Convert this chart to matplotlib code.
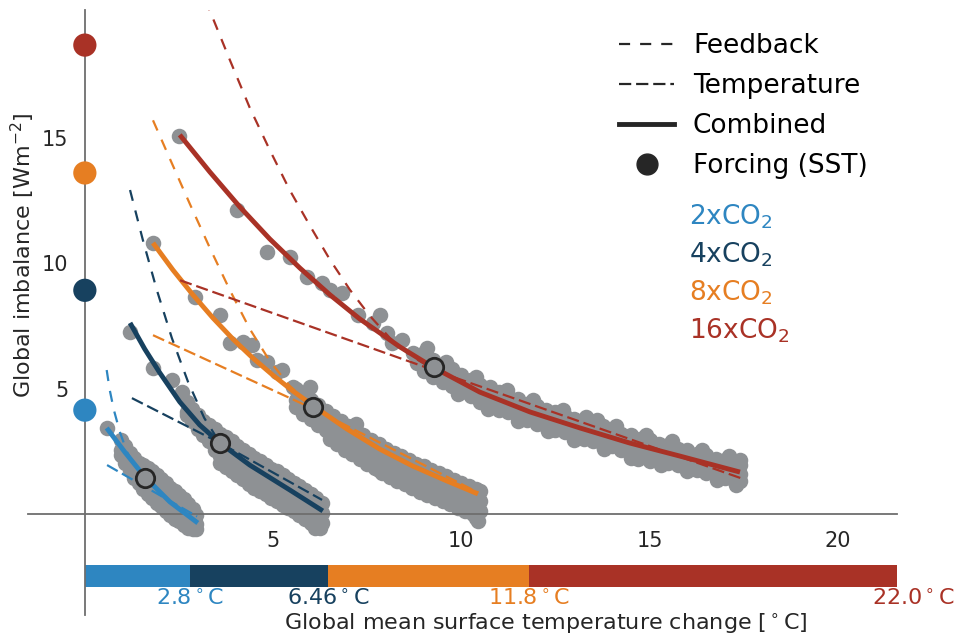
import matplotlib
matplotlib.use("Agg")
import matplotlib.pyplot as plt
from matplotlib.lines import Line2D

# ---------------- data ----------------
run_labels = ["2xCO$_2$", "4xCO$_2$", "8xCO$_2$", "16xCO$_2$"]
run_colors = ["#2e86c1", "#17415f", "#e67e22", "#a93226"]
forcing_sst = [4.14, 8.92, 13.6, 18.7]
eq_temps = [0.0, 2.8, 6.46, 11.8, 22.0]
eq_temp_labels = ["2.8", "6.46", "11.8", "22.0"]
cross_T = [1.60, 3.59, 6.06, 9.26]
cross_N = [1.43, 2.83, 4.26, 5.86]

# grey model output: early (isolated) years ...
T_2x_early = [0.59]
N_2x_early = [3.43]
T_4x_early = [1.20, 1.81, 2.31, 2.58]
N_4x_early = [7.25, 5.82, 5.34, 4.85]
T_8x_early = [1.81, 2.93, 3.59, 3.86, 4.20, 4.44, 4.57, 4.84, 5.11, 5.24, 5.53, 5.98, 7.20, 7.80, 8.60, 9.90, 10.40, 10.45]
N_8x_early = [10.80, 8.65, 7.93, 6.81, 6.85, 6.73, 6.14, 6.06, 5.66, 5.74, 5.06, 5.06, 3.60, 1.75, 1.20, 0.55, -0.15, -0.30]
T_16x_early = [2.50, 4.04, 4.84, 5.45, 5.90, 6.30, 6.52, 6.84, 7.26, 7.85, 7.66, 8.03, 8.16, 8.43, 8.72,
               9.10, 8.83, 13.60, 14.70, 15.00, 10.69]
N_16x_early = [15.06, 12.11, 10.44, 10.24, 9.44, 9.20, 8.92, 8.80, 7.93, 7.93, 7.61, 7.21, 6.81, 6.93, 6.41,
               6.61, 6.02, 3.75, 2.20, 2.10, 4.54]

# ... and the dense cloud of later years (rows across the cloud)
T_2x_band = [0.95, 1.07, 1.19, 1.31, 1.43, 1.55, 1.67, 1.79, 1.91, 2.03, 2.15, 2.27, 2.39, 2.51, 2.63, 2.75, 2.87, 2.95]
N_2x_hi = [2.95, 2.70, 2.45, 2.25, 2.05, 1.80, 1.60, 1.45, 1.25, 1.05, 0.90, 0.75, 0.55, 0.45, 0.30, 0.15, 0.05, -0.05]
N_2x_mid = [2.55, 2.30, 2.10, 1.85, 1.65, 1.40, 1.20, 1.05, 0.85, 0.65, 0.50, 0.30, 0.20, 0.05, -0.10, -0.20, -0.35, -0.40]
N_2x_lo = [2.35, 2.05, 1.75, 1.45, 1.25, 1.00, 0.80, 0.65, 0.45, 0.30, 0.10, -0.05, -0.20, -0.30, -0.45, -0.55, -0.60, -0.60]
T_2x_top = [1.55, 1.67, 1.79, 1.91, 2.03, 2.15, 2.27, 2.39, 2.51, 2.63, 2.75, 2.87]
N_2x_top = [1.95, 1.85, 1.72, 1.55, 1.40, 1.22, 1.05, 0.90, 0.75, 0.60, 0.40, 0.20]

T_4x_band = [2.70, 2.85, 3.00, 3.15, 3.30, 3.45, 3.60, 3.75, 3.90, 4.05, 4.20, 4.35, 4.50, 4.65, 4.80, 4.95,
             5.10, 5.25, 5.40, 5.55, 5.70, 5.85, 6.00, 6.15, 6.30]
N_4x_hi = [4.45, 4.20, 3.95, 3.70, 3.55, 3.40, 3.20, 3.05, 2.90, 2.70, 2.55, 2.40, 2.25, 2.10, 1.95, 1.80,
           1.70, 1.55, 1.40, 1.25, 1.10, 0.95, 0.80, 0.65, 0.45]
N_4x_mid = [4.05, 3.80, 3.55, 3.30, 3.10, 2.90, 2.70, 2.55, 2.40, 2.20, 2.05, 1.90, 1.75, 1.60, 1.45, 1.30,
            1.20, 1.05, 0.90, 0.75, 0.60, 0.45, 0.30, 0.20, 0.05]
N_4x_lo = [3.95, 3.70, 3.40, 3.15, 2.90, 2.55, 2.30, 2.15, 2.00, 1.80, 1.65, 1.50, 1.35, 1.20, 1.05, 0.90,
           0.80, 0.65, 0.50, 0.35, 0.20, 0.05, -0.10, -0.25, -0.35]
T_4x_bot = [3.60, 3.75, 3.90, 4.05, 4.20, 4.35, 4.50, 4.65, 4.80, 4.95, 5.10, 5.25, 5.40, 5.55, 5.70, 5.85,
            6.00, 6.15, 6.10, 6.25]
N_4x_bot = [2.05, 1.88, 1.70, 1.55, 1.38, 1.20, 1.05, 0.92, 0.78, 0.65, 0.50, 0.35, 0.22, 0.10, -0.05, -0.20,
            -0.35, -0.50, -0.58, -0.55]

T_8x_band = [5.60, 5.80, 6.00, 6.20, 6.40, 6.60, 6.80, 7.00, 7.20, 7.40, 7.60, 7.80, 8.00, 8.20, 8.40, 8.60,
             8.80, 9.00, 9.20, 9.40, 9.60, 9.80, 10.00, 10.20, 10.40, 10.50]
N_8x_hi = [5.00, 4.75, 4.55, 4.35, 4.10, 3.90, 3.70, 3.50, 3.35, 3.15, 2.95, 2.80, 2.60, 2.45, 2.30, 2.15,
           2.00, 1.90, 1.75, 1.65, 1.50, 1.35, 1.25, 1.10, 1.00, 0.90]
N_8x_mid = [4.55, 4.35, 4.15, 3.95, 3.70, 3.50, 3.30, 3.10, 2.90, 2.75, 2.55, 2.35, 2.20, 2.05, 1.90, 1.75,
            1.60, 1.45, 1.35, 1.20, 1.10, 0.95, 0.85, 0.70, 0.55, 0.50]
N_8x_lo = [4.25, 4.00, 3.80, 3.55, 3.35, 3.15, 2.95, 2.75, 2.55, 2.40, 2.20, 2.00, 1.85, 1.70, 1.55, 1.40,
           1.25, 1.10, 1.00, 0.85, 0.75, 0.60, 0.45, 0.35, 0.20, 0.10]
T_8x_bot = [6.50, 6.70, 6.90, 7.10, 7.30, 7.50, 7.70, 7.90, 8.10, 8.30, 8.50, 8.70, 8.90, 9.10, 9.30, 9.50,
            9.70, 9.90, 10.10, 10.30]
N_8x_bot = [3.00, 2.78, 2.55, 2.38, 2.20, 2.00, 1.82, 1.65, 1.48, 1.32, 1.18, 1.02, 0.88, 0.75, 0.62, 0.50,
            0.38, 0.25, 0.12, 0.00]

T_16x_band = [9.00, 9.25, 9.50, 9.75, 10.00, 10.25, 10.50, 10.75, 11.00, 11.25, 11.50, 11.75, 12.00, 12.25,
              12.50, 12.75, 13.00, 13.25, 13.50, 13.75, 14.00, 14.25, 14.50, 14.75, 15.00, 15.25, 15.50,
              15.75, 16.00, 16.25, 16.50, 16.75, 17.00, 17.25, 17.40]
N_16x_hi = [6.40, 6.15, 5.95, 5.80, 5.55, 5.35, 5.15, 5.05, 4.85, 4.70, 4.60, 4.40, 4.30, 4.15, 4.05, 3.90,
            3.80, 3.70, 3.55, 3.50, 3.35, 3.20, 3.15, 3.00, 2.95, 2.80, 2.75, 2.60, 2.55, 2.40, 2.35, 2.20,
            2.15, 2.05, 1.95]
N_16x_mid = [6.00, 5.80, 5.60, 5.40, 5.20, 5.00, 4.80, 4.65, 4.50, 4.35, 4.20, 4.05, 3.95, 3.80, 3.70, 3.55,
             3.45, 3.35, 3.20, 3.10, 3.00, 2.90, 2.75, 2.65, 2.55, 2.50, 2.40, 2.25, 2.20, 2.05, 2.00, 1.90,
             1.75, 1.70, 1.60]
N_16x_lo = [5.70, 5.45, 5.25, 5.10, 4.85, 4.70, 4.45, 4.35, 4.15, 4.05, 3.85, 3.75, 3.60, 3.50, 3.35, 3.25,
            3.10, 3.00, 2.90, 2.75, 2.70, 2.55, 2.45, 2.35, 2.25, 2.15, 2.05, 1.95, 1.85, 1.75, 1.65, 1.55,
            1.45, 1.35, 1.30]
T_16x_top = [9.60, 10.40, 11.20, 11.90, 12.70, 13.30, 14.10, 14.90, 15.60, 16.40, 17.10, 17.40]
N_16x_top = [6.05, 5.45, 4.95, 4.55, 4.15, 3.85, 3.50, 3.15, 2.90, 2.55, 2.30, 2.15]
T_16x_bot = [9.90, 10.70, 11.50, 12.30, 13.00, 13.80, 14.50, 15.30, 16.00, 16.80, 17.30]
N_16x_bot = [4.80, 4.20, 3.70, 3.30, 2.95, 2.60, 2.25, 1.95, 1.70, 1.35, 1.15]

# fitted curves: combined (solid), feedback (steep dashed), temperature (shallow dashed)
comb_T = [[0.58, 1.06, 1.59, 2.26, 3.00],
          [1.20, 1.59, 1.99, 2.52, 3.05, 3.59, 4.38, 5.44, 6.32],
          [1.81, 2.34, 2.87, 3.40, 3.93, 4.46, 4.99, 5.52, 6.11, 6.96, 7.83, 8.71, 9.61, 10.44],
          [2.52, 3.32, 4.12, 4.91, 5.71, 6.51, 7.30, 8.37, 9.24, 10.49, 11.82, 13.15, 14.47, 15.80, 17.40]]
comb_N = [[3.43, 2.47, 1.48, 0.48, -0.36],
          [7.62, 6.58, 5.63, 4.47, 3.55, 2.83, 1.95, 0.96, 0.12],
          [10.81, 9.73, 8.74, 7.82, 6.98, 6.22, 5.54, 4.91, 4.27, 3.39, 2.59, 1.91, 1.32, 0.80],
          [15.12, 13.64, 12.24, 10.97, 9.81, 8.74, 7.78, 6.66, 5.86, 4.86, 4.07, 3.43, 2.83, 2.31, 1.67]]
feed_T = [[0.58, 0.66, 0.77, 0.93, 1.12, 1.33, 1.59],
          [1.20, 1.54, 1.91, 2.31, 2.74, 3.17, 3.59],
          [1.81, 2.26, 2.79, 3.32, 3.85, 4.38, 4.91, 5.44, 6.06],
          [3.20, 3.32, 3.85, 4.38, 4.91, 5.44, 5.98, 6.51, 7.04, 7.57, 8.10, 8.63, 9.24]]
feed_N = [[5.74, 4.95, 4.15, 3.27, 2.47, 1.91, 1.44],
          [12.92, 10.93, 8.94, 7.02, 5.27, 3.83, 2.83],
          [15.70, 14.16, 12.36, 10.61, 8.93, 7.38, 6.10, 5.11, 4.27],
          [20.50, 20.07, 18.11, 16.20, 14.52, 12.92, 11.49, 10.14, 8.94, 7.90, 7.02, 6.34, 5.78]]
temp_T = [[0.59, 2.98], [1.25, 3.59, 6.30], [1.81, 6.06, 10.45], [2.53, 9.26, 17.42]]
temp_N = [[1.95, -0.10], [4.62, 2.83, 0.56], [7.13, 4.20, 0.85], [9.32, 5.74, 1.43]]

legend_labels = ["Feedback", "Temperature", "Combined", "Forcing (SST)"]

# ---------------- plot ----------------
grey = "#8e9194"
dark = "#262626"
fb_dash = (0, (5, 4.5))
tp_dash = (0, (5.5, 2.2))
pt_size = 125

fig = plt.figure(figsize=(9.58, 6.39), dpi=100)
ax = fig.add_axes([28 / 958, 24 / 639, 869 / 958, 605 / 639])
ax.set_xlim(-1.51, 21.57)
ax.set_ylim(-4.03, 20.1)

clouds = [(T_2x_early, N_2x_early), (T_4x_early, N_4x_early), (T_8x_early, N_8x_early),
          (T_16x_early, N_16x_early),
          (T_2x_band, N_2x_hi), (T_2x_band, N_2x_mid), (T_2x_band, N_2x_lo), (T_2x_top, N_2x_top),
          (T_4x_band, N_4x_hi), (T_4x_band, N_4x_mid), (T_4x_band, N_4x_lo), (T_4x_bot, N_4x_bot),
          (T_8x_band, N_8x_hi), (T_8x_band, N_8x_mid), (T_8x_band, N_8x_lo), (T_8x_bot, N_8x_bot),
          (T_16x_band, N_16x_hi), (T_16x_band, N_16x_mid), (T_16x_band, N_16x_lo),
          (T_16x_top, N_16x_top), (T_16x_bot, N_16x_bot)]
for T, N in clouds:
    ax.scatter(T, N, s=pt_size, color=grey, linewidths=0, zorder=2)

for i, c in enumerate(run_colors):
    ax.plot(feed_T[i], feed_N[i], color=c, lw=1.6, ls=fb_dash, zorder=3)
    ax.plot(temp_T[i], temp_N[i], color=c, lw=1.6, ls=tp_dash, zorder=3)
    ax.plot(comb_T[i], comb_N[i], color=c, lw=3.5, solid_capstyle="butt",
            solid_joinstyle="round", zorder=3)

ax.scatter(cross_T, cross_N, s=175, facecolor=grey, edgecolor=dark, linewidths=2, zorder=5)
ax.scatter([0] * 4, forcing_sst, s=280, c=run_colors, linewidths=0, zorder=6, clip_on=False)

# colour bar of equilibrium temperatures
for i, c in enumerate(run_colors):
    ax.barh(-2.47, eq_temps[i + 1] - eq_temps[i], left=eq_temps[i], height=0.88,
            color=c, edgecolor="none", zorder=2)
    ax.text(eq_temps[i + 1], -3.35, eq_temp_labels[i] + r"$^\circ$C", color=c,
            ha="center", va="center", fontsize=16, clip_on=False)

# spines & ticks
for s in ["top", "right"]:
    ax.spines[s].set_visible(False)
ax.spines["left"].set_position(("data", 0))
ax.spines["bottom"].set_position(("data", 0))
for s in ["left", "bottom"]:
    ax.spines[s].set_color("#6e6e6e")
    ax.spines[s].set_linewidth(1.3)
ax.set_xticks([5, 10, 15, 20])
ax.set_yticks([5, 10, 15])
ax.tick_params(axis="both", length=0, labelsize=15, labelcolor=dark)
ax.tick_params(axis="x", pad=12)
ax.tick_params(axis="y", pad=12)

fig.text(546 / 958, 1 - 624 / 639, r"Global mean surface temperature change [$^\circ$C]",
         ha="center", va="center", fontsize=16, color=dark)
fig.text(23 / 958, 1 - 255 / 639, r"Global imbalance [Wm$^{-2}$]", rotation=90,
         ha="center", va="center", fontsize=16, color=dark)

# legend
handles = [Line2D([], [], color=dark, lw=1.6, ls=fb_dash),
           Line2D([], [], color=dark, lw=1.6, ls=tp_dash),
           Line2D([], [], color=dark, lw=3.5),
           Line2D([], [], color=dark, marker="o", ls="none", ms=15)]
ax.legend(handles, legend_labels, loc="upper left", bbox_to_anchor=(619 / 958, 1 - 33 / 639),
          bbox_transform=fig.transFigure, frameon=False, fontsize=19, handlelength=2.1,
          handletextpad=0.7, labelspacing=0.53, borderpad=0, borderaxespad=0)

for i, (lab, c) in enumerate(zip(run_labels, run_colors)):
    ax.text(16.04, 11.85 - 1.51 * i, lab, color=c, fontsize=19, ha="left", va="center")

fig.savefig("out.png", dpi=100)
